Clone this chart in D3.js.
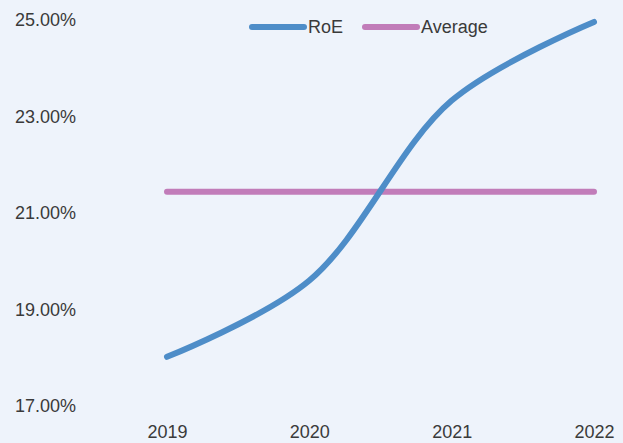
<!DOCTYPE html>
<html>
<head>
<meta charset="utf-8">
<script src="https://cdn.jsdelivr.net/npm/d3@7"></script>
<style>
  html, body { margin: 0; padding: 0; background: #eef3fb; }
  svg { display: block; }
  text { font-family: "Liberation Sans", Arial, sans-serif; fill: #3a3a3a; }
</style>
</head>
<body>
<svg id="chart" width="623" height="443"></svg>
<script>
const years = ["2019", "2020", "2021", "2022"];
const roe = [18.02, 19.6, 23.33, 24.96];
const average = [21.44, 21.44, 21.44, 21.44];
const yTicks = [17, 19, 21, 23, 25];
const seriesNames = ["RoE", "Average"];
const colors = ["#4e8dc8", "#c17cb9"];

const W = 623, H = 443;
const svg = d3.select("#chart");
svg.append("rect").attr("width", W).attr("height", H).attr("fill", "#eef3fb");

const x = d3.scalePoint().domain(years).range([167, 594]);
const y = d3.scaleLinear().domain([17, 25]).range([406, 20]);

// Y axis labels
const yAxis = d3.axisLeft(y).tickValues(yTicks).tickSize(0).tickPadding(0)
  .tickFormat(d => d3.format(".2f")(d) + "%");
const gy = svg.append("g").attr("transform", "translate(76,0)").call(yAxis);
gy.select(".domain").remove();
gy.selectAll("text").style("font-size", "18px").attr("fill", "#3a3a3a")
  .attr("font-family", "Liberation Sans, Arial, sans-serif");

// X axis labels
const xAxis = d3.axisBottom(x).tickSize(0).tickPadding(0);
const gx = svg.append("g").attr("transform", "translate(0,425)").call(xAxis);
gx.select(".domain").remove();
gx.selectAll("text").style("font-size", "18px").attr("fill", "#3a3a3a")
  .attr("font-family", "Liberation Sans, Arial, sans-serif");

// Lines
const lineSmooth = d3.line().x((d, i) => x(years[i])).y(d => y(d)).curve(d3.curveCatmullRom.alpha(0.5));
const lineStraight = d3.line().x((d, i) => x(years[i])).y(d => y(d));

svg.append("path").datum(average).attr("d", lineStraight)
  .attr("fill", "none").attr("stroke", colors[1]).attr("stroke-width", 6).attr("stroke-linecap", "round");
svg.append("path").datum(roe).attr("d", lineSmooth)
  .attr("fill", "none").attr("stroke", colors[0]).attr("stroke-width", 6).attr("stroke-linecap", "round");

// Legend
const legendItems = [
  { name: seriesNames[0], color: colors[0], x0: 252 },
  { name: seriesNames[1], color: colors[1], x0: 365 }
];
const lg = svg.append("g");
legendItems.forEach(it => {
  lg.append("line").attr("x1", it.x0).attr("x2", it.x0 + 52).attr("y1", 27).attr("y2", 27)
    .attr("stroke", it.color).attr("stroke-width", 6).attr("stroke-linecap", "round");
  lg.append("text").attr("x", it.x0 + 56).attr("y", 27).attr("dy", "0.35em")
    .style("font-size", "18px").text(it.name);
});
</script>
</body>
</html>
